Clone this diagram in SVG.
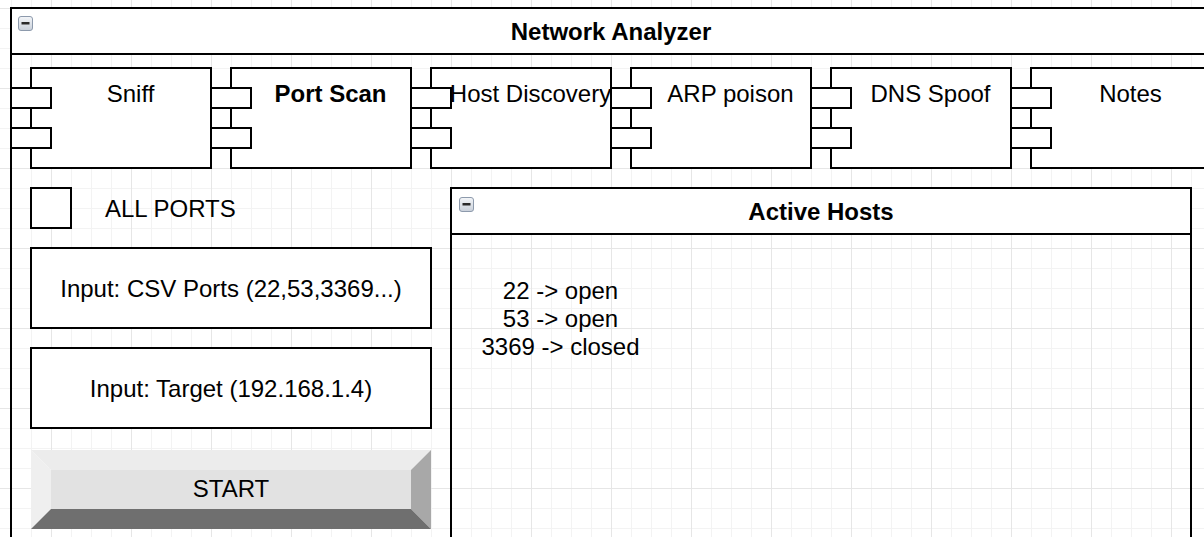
<svg xmlns="http://www.w3.org/2000/svg" width="1204" height="537" viewBox="0 0 1204 537">
  <style>
    .ln { fill: none; stroke: #000; stroke-width: 2; }
    .box { fill: #fff; stroke: #000; stroke-width: 2; }
    .t { font-family: "Liberation Sans", Arial, sans-serif; font-size: 24px; fill: #000; }
    .c { text-anchor: middle; }
    .b { font-weight: bold; }
  </style>
  <defs>
    <!-- 20px minor grid with a heavier line every 80px -->
    <pattern id="grid" patternUnits="userSpaceOnUse" x="51" y="8" width="80" height="80">
      <rect width="80" height="80" fill="#fff"/>
      <path d="M20.5 0V80M40.5 0V80M60.5 0V80M0 20.5H80M0 40.5H80M0 60.5H80" stroke="#f3f3f3" stroke-width="1"/>
      <path d="M0.5 0V80M0 0.5H80" stroke="#e6e6e6" stroke-width="1"/>
    </pattern>
    <linearGradient id="iconFill" x1="0" y1="0" x2="0" y2="1">
      <stop offset="0" stop-color="#f4f6f9"/>
      <stop offset="1" stop-color="#c9d0da"/>
    </linearGradient>
    <!-- collapse (minus) icon used by the panel headers -->
    <g id="minus">
      <rect x="0.5" y="0.5" width="14" height="14" rx="2.5" fill="url(#iconFill)" stroke="#8d9aac" stroke-width="1"/>
      <rect x="3.5" y="6" width="8" height="2.5" fill="#2a2a2a"/>
    </g>
    <!-- component shape: body plus two connector tabs -->
    <g id="component">
      <rect class="box" x="20" y="0" width="180" height="100"/>
      <rect class="box" x="0" y="20" width="40" height="20"/>
      <rect class="box" x="0" y="60" width="40" height="20"/>
    </g>
  </defs>

  <rect width="1204" height="537" fill="url(#grid)"/>

  <g id="network-analyzer">
    <rect class="ln" x="11" y="8" width="1200" height="560"/>
    <rect class="box" x="11" y="8" width="1200" height="46"/>
    <use href="#minus" x="18" y="16"/>
    <text class="t c b" x="611" y="40">Network Analyzer</text>
  </g>

  <g id="tab-sniff">
    <use href="#component" x="11" y="68"/>
    <text class="t c" x="130.5" y="102">Sniff</text>
  </g>
  <g id="tab-port-scan">
    <use href="#component" x="211" y="68"/>
    <text class="t c b" x="330.5" y="102">Port Scan</text>
  </g>
  <g id="tab-host-discovery">
    <use href="#component" x="411" y="68"/>
    <text class="t c" x="530.5" y="102">Host Discovery</text>
  </g>
  <g id="tab-arp-poison">
    <use href="#component" x="611" y="68"/>
    <text class="t c" x="730.5" y="102">ARP poison</text>
  </g>
  <g id="tab-dns-spoof">
    <use href="#component" x="811" y="68"/>
    <text class="t c" x="930.5" y="102">DNS Spoof</text>
  </g>
  <g id="tab-notes">
    <use href="#component" x="1011" y="68"/>
    <text class="t c" x="1130.5" y="102">Notes</text>
  </g>

  <g id="all-ports">
    <rect class="box" x="31" y="188" width="40" height="40"/>
    <text class="t" x="105" y="217">ALL PORTS</text>
  </g>

  <g id="input-ports">
    <rect class="box" x="31" y="248" width="400" height="80"/>
    <text class="t c" x="231" y="297">Input: CSV Ports (22,53,3369...)</text>
  </g>

  <g id="input-target">
    <rect class="box" x="31" y="348" width="400" height="80"/>
    <text class="t c" x="231" y="397">Input: Target (192.168.1.4)</text>
  </g>

  <g id="start-button">
    <polygon points="31,450 431,450 411,470 51,470" fill="#ececec"/>
    <polygon points="31,450 51,470 51,509 31,529" fill="#efefef"/>
    <polygon points="431,450 431,529 411,509 411,470" fill="#a8a8a8"/>
    <polygon points="31,529 51,509 411,509 431,529" fill="#6f6f6f"/>
    <rect x="51" y="470" width="360" height="39" fill="#e2e2e2"/>
    <text class="t c" x="231" y="497">START</text>
  </g>

  <g id="active-hosts">
    <rect class="ln" x="451" y="188" width="740" height="380"/>
    <rect class="box" x="451" y="188" width="740" height="46"/>
    <use href="#minus" x="459" y="197"/>
    <text class="t c b" x="821" y="220">Active Hosts</text>
    <text class="t c" x="560.5" y="299">22 -&gt; open</text>
    <text class="t c" x="560.5" y="327">53 -&gt; open</text>
    <text class="t c" x="560.5" y="355">3369 -&gt; closed</text>
  </g>

  <g id="connectors"/>
</svg>
